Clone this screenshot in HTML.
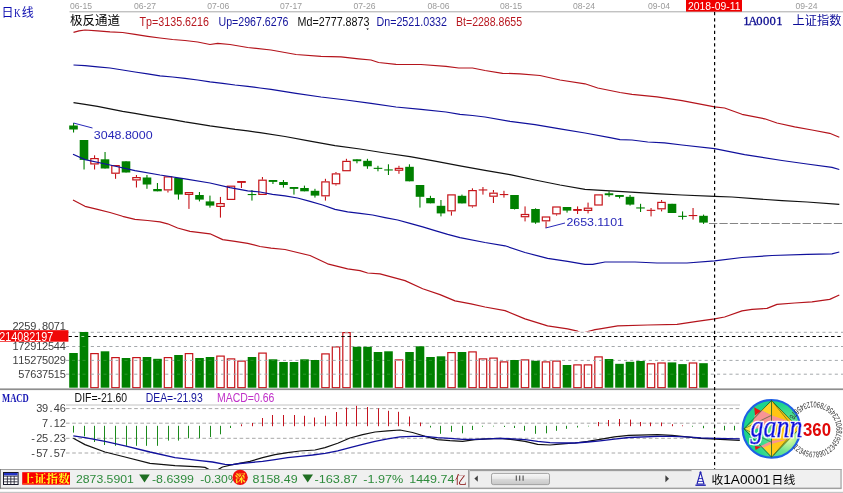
<!DOCTYPE html>
<html><head><meta charset="utf-8"><title>K</title>
<style>html,body{margin:0;padding:0;background:#fff;width:843px;height:493px;overflow:hidden}svg{will-change:transform;transform:translateZ(0)}</style></head>
<body>
<svg width="843" height="493" viewBox="0 0 843 493" style="display:block">
<rect width="843" height="493" fill="#fff"/>
<defs><clipPath id="cm"><rect x="66" y="12" width="777" height="319.6"/></clipPath><clipPath id="cd"><rect x="66" y="392" width="674" height="77.3"/></clipPath></defs>
<rect x="69.5" y="11.3" width="774" height="1" fill="#a8a8a8"/>
<text x="70.0" y="9.4" font-family="Liberation Sans" font-size="9.8" fill="#9a9a9a" text-anchor="start" font-weight="normal" font-style="normal" textLength="22.0" lengthAdjust="spacingAndGlyphs" >06-15</text>
<text x="134.0" y="9.4" font-family="Liberation Sans" font-size="9.8" fill="#9a9a9a" text-anchor="start" font-weight="normal" font-style="normal" textLength="22.0" lengthAdjust="spacingAndGlyphs" >06-27</text>
<text x="207.3" y="9.4" font-family="Liberation Sans" font-size="9.8" fill="#9a9a9a" text-anchor="start" font-weight="normal" font-style="normal" textLength="22.0" lengthAdjust="spacingAndGlyphs" >07-06</text>
<text x="280.0" y="9.4" font-family="Liberation Sans" font-size="9.8" fill="#9a9a9a" text-anchor="start" font-weight="normal" font-style="normal" textLength="22.0" lengthAdjust="spacingAndGlyphs" >07-17</text>
<text x="353.5" y="9.4" font-family="Liberation Sans" font-size="9.8" fill="#9a9a9a" text-anchor="start" font-weight="normal" font-style="normal" textLength="22.0" lengthAdjust="spacingAndGlyphs" >07-26</text>
<text x="427.5" y="9.4" font-family="Liberation Sans" font-size="9.8" fill="#9a9a9a" text-anchor="start" font-weight="normal" font-style="normal" textLength="22.0" lengthAdjust="spacingAndGlyphs" >08-06</text>
<text x="500.0" y="9.4" font-family="Liberation Sans" font-size="9.8" fill="#9a9a9a" text-anchor="start" font-weight="normal" font-style="normal" textLength="22.0" lengthAdjust="spacingAndGlyphs" >08-15</text>
<text x="573.0" y="9.4" font-family="Liberation Sans" font-size="9.8" fill="#9a9a9a" text-anchor="start" font-weight="normal" font-style="normal" textLength="22.0" lengthAdjust="spacingAndGlyphs" >08-24</text>
<text x="648.0" y="9.4" font-family="Liberation Sans" font-size="9.8" fill="#9a9a9a" text-anchor="start" font-weight="normal" font-style="normal" textLength="22.0" lengthAdjust="spacingAndGlyphs" >09-04</text>
<text x="795.5" y="9.4" font-family="Liberation Sans" font-size="9.8" fill="#9a9a9a" text-anchor="start" font-weight="normal" font-style="normal" textLength="22.0" lengthAdjust="spacingAndGlyphs" >09-24</text>
<rect x="686" y="0" width="56" height="11.6" fill="#f00000"/>
<text x="688.0" y="10.0" font-family="Liberation Sans" font-size="11.5" fill="#fff" text-anchor="start" font-weight="normal" font-style="normal" textLength="52.5" lengthAdjust="spacingAndGlyphs" >2018-09-11</text>
<text x="1.4" y="17.2" font-family="'Liberation Sans','Noto Sans CJK SC',sans-serif" font-size="12" fill="#0c0cb0" text-anchor="start">日</text>
<text x="14.0" y="17.2" font-family="Liberation Serif" font-size="12.4" fill="#0c0cb0" text-anchor="start" font-weight="normal" font-style="normal" textLength="6.6" lengthAdjust="spacingAndGlyphs" >K</text>
<text x="21.8" y="17.2" font-family="'Liberation Sans','Noto Sans CJK SC',sans-serif" font-size="12" fill="#0c0cb0" text-anchor="start">线</text>
<text x="70.0" y="25.0" font-family="'Liberation Sans','Noto Sans CJK SC',sans-serif" font-size="12.4" fill="#000" text-anchor="start" textLength="50.0" lengthAdjust="spacingAndGlyphs">极反通道</text>
<text x="139.5" y="26.0" font-family="Liberation Sans" font-size="12.4" fill="#b81820" text-anchor="start" font-weight="normal" font-style="normal" textLength="69.5" lengthAdjust="spacingAndGlyphs" >Tp=3135.6216</text>
<text x="218.5" y="26.0" font-family="Liberation Sans" font-size="12.4" fill="#14149c" text-anchor="start" font-weight="normal" font-style="normal" textLength="70.0" lengthAdjust="spacingAndGlyphs" >Up=2967.6276</text>
<text x="297.5" y="26.0" font-family="Liberation Sans" font-size="12.4" fill="#111" text-anchor="start" font-weight="normal" font-style="normal" textLength="72.0" lengthAdjust="spacingAndGlyphs" >Md=2777.8873</text>
<text x="376.5" y="26.0" font-family="Liberation Sans" font-size="12.4" fill="#14149c" text-anchor="start" font-weight="normal" font-style="normal" textLength="70.5" lengthAdjust="spacingAndGlyphs" >Dn=2521.0332</text>
<text x="456.0" y="26.0" font-family="Liberation Sans" font-size="12.4" fill="#b81820" text-anchor="start" font-weight="normal" font-style="normal" textLength="66.0" lengthAdjust="spacingAndGlyphs" >Bt=2288.8655</text>
<path d="M366.3 28.6h2.6l-1.3 1.5z" fill="#000"/>
<text stroke="#0c0c90" stroke-width="0.3" x="746.3 752.9 759.5 766.1 772.7 779.3" y="25.0" font-family="Liberation Serif" font-size="12.6" fill="#0c0c90" text-anchor="middle" font-weight="normal">1A0001</text>
<text x="792.6" y="25.0" font-family="'Liberation Sans','Noto Sans CJK SC',sans-serif" font-size="12.2" fill="#0c0c98" text-anchor="start" textLength="48.8" lengthAdjust="spacingAndGlyphs">上证指数</text>
<rect x="73.0" y="123.0" width="1.1" height="9.5" fill="#008000"/>
<rect x="69.2" y="125.5" width="8.6" height="4.0" fill="#008000"/>
<rect x="83.5" y="140.0" width="1.1" height="29.5" fill="#008000"/>
<rect x="79.7" y="140.0" width="8.6" height="19.9" fill="#008000"/>
<rect x="94.0" y="155.3" width="1.1" height="2.7" fill="#c6141a"/>
<rect x="94.0" y="164.5" width="1.1" height="5.0" fill="#c6141a"/>
<rect x="90.8" y="158.6" width="7.4" height="5.3" fill="#fff" stroke="#c6141a" stroke-width="1.2"/>
<rect x="104.5" y="152.0" width="1.1" height="16.5" fill="#008000"/>
<rect x="100.7" y="159.3" width="8.6" height="9.2" fill="#008000"/>
<rect x="115.0" y="173.8" width="1.1" height="5.0" fill="#c6141a"/>
<rect x="111.8" y="165.6" width="7.4" height="7.6" fill="#fff" stroke="#c6141a" stroke-width="1.2"/>
<rect x="125.5" y="161.3" width="1.1" height="11.2" fill="#008000"/>
<rect x="121.7" y="161.3" width="8.6" height="11.2" fill="#008000"/>
<rect x="135.9" y="175.0" width="1.1" height="2.0" fill="#c6141a"/>
<rect x="135.9" y="180.5" width="1.1" height="7.0" fill="#c6141a"/>
<rect x="132.8" y="177.6" width="7.4" height="2.3" fill="#fff" stroke="#c6141a" stroke-width="1.2"/>
<rect x="146.4" y="175.0" width="1.1" height="13.8" fill="#008000"/>
<rect x="142.7" y="177.5" width="8.6" height="7.0" fill="#008000"/>
<rect x="156.9" y="183.0" width="1.1" height="8.3" fill="#008000"/>
<rect x="153.2" y="189.0" width="8.6" height="2.3" fill="#008000"/>
<rect x="167.4" y="190.5" width="1.1" height="2.0" fill="#c6141a"/>
<rect x="164.3" y="176.9" width="7.4" height="13.0" fill="#fff" stroke="#c6141a" stroke-width="1.2"/>
<rect x="177.9" y="178.0" width="1.1" height="21.6" fill="#008000"/>
<rect x="174.2" y="178.0" width="8.6" height="16.5" fill="#008000"/>
<rect x="188.4" y="195.0" width="1.1" height="13.9" fill="#c6141a"/>
<rect x="185.3" y="192.6" width="7.4" height="1.8" fill="#fff" stroke="#c6141a" stroke-width="1.2"/>
<rect x="198.9" y="192.0" width="1.1" height="9.4" fill="#008000"/>
<rect x="195.2" y="195.0" width="8.6" height="4.6" fill="#008000"/>
<rect x="209.4" y="195.6" width="1.1" height="12.0" fill="#008000"/>
<rect x="205.7" y="201.4" width="8.6" height="4.2" fill="#008000"/>
<rect x="219.9" y="196.9" width="1.1" height="6.1" fill="#c6141a"/>
<rect x="219.9" y="207.0" width="1.1" height="10.6" fill="#c6141a"/>
<rect x="216.8" y="203.6" width="7.4" height="2.8" fill="#fff" stroke="#c6141a" stroke-width="1.2"/>
<rect x="227.3" y="186.2" width="7.4" height="13.2" fill="#fff" stroke="#c6141a" stroke-width="1.2"/>
<rect x="237.2" y="181.0" width="8.6" height="1.9" fill="#c6141a"/>
<rect x="240.9" y="181.0" width="1.1" height="7.0" fill="#c6141a"/>
<rect x="247.7" y="194.0" width="8.6" height="1.1" fill="#008000"/>
<rect x="251.4" y="190.0" width="1.1" height="10.6" fill="#008000"/>
<rect x="261.9" y="177.0" width="1.1" height="2.6" fill="#c6141a"/>
<rect x="258.8" y="180.2" width="7.4" height="14.2" fill="#fff" stroke="#c6141a" stroke-width="1.2"/>
<rect x="268.7" y="180.0" width="8.6" height="1.9" fill="#008000"/>
<rect x="272.4" y="180.0" width="1.1" height="4.0" fill="#008000"/>
<rect x="282.9" y="180.0" width="1.1" height="7.6" fill="#008000"/>
<rect x="279.2" y="182.0" width="8.6" height="3.0" fill="#008000"/>
<rect x="289.7" y="187.0" width="8.6" height="1.9" fill="#008000"/>
<rect x="293.4" y="187.0" width="1.1" height="7.6" fill="#008000"/>
<rect x="303.9" y="185.6" width="1.1" height="5.7" fill="#008000"/>
<rect x="300.2" y="188.0" width="8.6" height="3.3" fill="#008000"/>
<rect x="314.4" y="188.8" width="1.1" height="8.8" fill="#008000"/>
<rect x="310.7" y="190.8" width="8.6" height="4.8" fill="#008000"/>
<rect x="324.9" y="178.8" width="1.1" height="2.5" fill="#c6141a"/>
<rect x="324.9" y="196.4" width="1.1" height="4.2" fill="#c6141a"/>
<rect x="321.8" y="181.9" width="7.4" height="13.9" fill="#fff" stroke="#c6141a" stroke-width="1.2"/>
<rect x="335.4" y="172.0" width="1.1" height="1.3" fill="#c6141a"/>
<rect x="335.4" y="184.3" width="1.1" height="1.3" fill="#c6141a"/>
<rect x="332.3" y="173.9" width="7.4" height="9.8" fill="#fff" stroke="#c6141a" stroke-width="1.2"/>
<rect x="345.9" y="158.8" width="1.1" height="2.0" fill="#c6141a"/>
<rect x="342.8" y="161.4" width="7.4" height="9.3" fill="#fff" stroke="#c6141a" stroke-width="1.2"/>
<rect x="352.7" y="159.3" width="8.6" height="1.9" fill="#008000"/>
<rect x="356.4" y="159.3" width="1.1" height="4.0" fill="#008000"/>
<rect x="366.9" y="158.8" width="1.1" height="10.0" fill="#008000"/>
<rect x="363.2" y="160.8" width="8.6" height="5.5" fill="#008000"/>
<rect x="373.7" y="167.8" width="8.6" height="1.1" fill="#008000"/>
<rect x="377.4" y="165.8" width="1.1" height="5.5" fill="#008000"/>
<rect x="384.2" y="169.4" width="8.6" height="1.1" fill="#008000"/>
<rect x="387.9" y="164.3" width="1.1" height="10.7" fill="#008000"/>
<rect x="398.4" y="165.8" width="1.1" height="2.0" fill="#c6141a"/>
<rect x="398.4" y="170.8" width="1.1" height="3.0" fill="#c6141a"/>
<rect x="395.3" y="168.4" width="7.4" height="1.8" fill="#fff" stroke="#c6141a" stroke-width="1.2"/>
<rect x="408.9" y="164.3" width="1.1" height="17.0" fill="#008000"/>
<rect x="405.2" y="166.8" width="8.6" height="14.5" fill="#008000"/>
<rect x="419.4" y="185.0" width="1.1" height="22.6" fill="#008000"/>
<rect x="415.7" y="185.0" width="8.6" height="11.8" fill="#008000"/>
<rect x="429.9" y="195.8" width="1.1" height="7.5" fill="#008000"/>
<rect x="426.2" y="198.0" width="8.6" height="5.3" fill="#008000"/>
<rect x="440.4" y="200.0" width="1.1" height="16.4" fill="#008000"/>
<rect x="436.7" y="205.8" width="8.6" height="7.6" fill="#008000"/>
<rect x="450.9" y="211.4" width="1.1" height="4.2" fill="#c6141a"/>
<rect x="447.8" y="194.9" width="7.4" height="15.9" fill="#fff" stroke="#c6141a" stroke-width="1.2"/>
<rect x="461.4" y="194.6" width="1.1" height="8.8" fill="#008000"/>
<rect x="457.7" y="195.8" width="8.6" height="7.6" fill="#008000"/>
<rect x="471.9" y="188.3" width="1.1" height="1.7" fill="#c6141a"/>
<rect x="471.9" y="206.4" width="1.1" height="1.2" fill="#c6141a"/>
<rect x="468.8" y="190.6" width="7.4" height="15.2" fill="#fff" stroke="#c6141a" stroke-width="1.2"/>
<rect x="478.7" y="189.4" width="8.6" height="1.1" fill="#c6141a"/>
<rect x="482.4" y="187.0" width="1.1" height="7.6" fill="#c6141a"/>
<rect x="492.9" y="190.0" width="1.1" height="2.6" fill="#c6141a"/>
<rect x="492.9" y="196.8" width="1.1" height="6.2" fill="#c6141a"/>
<rect x="489.8" y="193.2" width="7.4" height="3.0" fill="#fff" stroke="#c6141a" stroke-width="1.2"/>
<rect x="499.7" y="194.0" width="8.6" height="1.1" fill="#c6141a"/>
<rect x="503.4" y="190.8" width="1.1" height="6.8" fill="#c6141a"/>
<rect x="514.0" y="195.0" width="1.1" height="14.5" fill="#008000"/>
<rect x="510.2" y="195.0" width="8.6" height="14.0" fill="#008000"/>
<rect x="524.5" y="206.4" width="1.1" height="7.5" fill="#c6141a"/>
<rect x="524.5" y="217.3" width="1.1" height="4.1" fill="#c6141a"/>
<rect x="521.3" y="214.5" width="7.4" height="2.2" fill="#fff" stroke="#c6141a" stroke-width="1.2"/>
<rect x="535.0" y="208.3" width="1.1" height="15.5" fill="#008000"/>
<rect x="531.2" y="209.0" width="8.6" height="13.6" fill="#008000"/>
<rect x="545.5" y="221.4" width="1.1" height="6.6" fill="#c6141a"/>
<rect x="542.3" y="217.0" width="7.4" height="3.8" fill="#fff" stroke="#c6141a" stroke-width="1.2"/>
<rect x="556.0" y="214.4" width="1.1" height="1.2" fill="#c6141a"/>
<rect x="552.8" y="207.0" width="7.4" height="6.8" fill="#fff" stroke="#c6141a" stroke-width="1.2"/>
<rect x="566.5" y="207.0" width="1.1" height="5.6" fill="#008000"/>
<rect x="562.7" y="207.0" width="8.6" height="3.6" fill="#008000"/>
<rect x="573.2" y="209.0" width="8.6" height="1.9" fill="#c6141a"/>
<rect x="577.0" y="206.4" width="1.1" height="7.6" fill="#c6141a"/>
<rect x="587.5" y="202.6" width="1.1" height="5.0" fill="#c6141a"/>
<rect x="587.5" y="211.0" width="1.1" height="2.4" fill="#c6141a"/>
<rect x="584.3" y="208.2" width="7.4" height="2.2" fill="#fff" stroke="#c6141a" stroke-width="1.2"/>
<rect x="594.8" y="194.9" width="7.4" height="10.1" fill="#fff" stroke="#c6141a" stroke-width="1.2"/>
<rect x="604.7" y="193.3" width="8.6" height="1.9" fill="#008000"/>
<rect x="608.5" y="191.3" width="1.1" height="5.5" fill="#008000"/>
<rect x="615.2" y="195.0" width="8.6" height="1.9" fill="#008000"/>
<rect x="619.0" y="195.0" width="1.1" height="3.4" fill="#008000"/>
<rect x="629.5" y="195.0" width="1.1" height="10.6" fill="#008000"/>
<rect x="625.7" y="196.8" width="8.6" height="7.8" fill="#008000"/>
<rect x="636.2" y="207.4" width="8.6" height="1.1" fill="#008000"/>
<rect x="640.0" y="203.8" width="1.1" height="8.2" fill="#008000"/>
<rect x="646.7" y="209.8" width="8.6" height="1.1" fill="#c6141a"/>
<rect x="650.5" y="208.0" width="1.1" height="8.4" fill="#c6141a"/>
<rect x="661.0" y="200.0" width="1.1" height="1.8" fill="#c6141a"/>
<rect x="661.0" y="209.4" width="1.1" height="2.0" fill="#c6141a"/>
<rect x="657.8" y="202.4" width="7.4" height="6.4" fill="#fff" stroke="#c6141a" stroke-width="1.2"/>
<rect x="671.5" y="203.8" width="1.1" height="9.2" fill="#008000"/>
<rect x="667.7" y="203.8" width="8.6" height="9.2" fill="#008000"/>
<rect x="678.2" y="215.8" width="8.6" height="1.1" fill="#008000"/>
<rect x="682.0" y="211.4" width="1.1" height="8.2" fill="#008000"/>
<rect x="688.7" y="215.0" width="8.6" height="1.1" fill="#c6141a"/>
<rect x="692.5" y="208.0" width="1.1" height="11.6" fill="#c6141a"/>
<rect x="703.0" y="214.6" width="1.1" height="9.3" fill="#008000"/>
<rect x="699.2" y="215.8" width="8.6" height="6.8" fill="#008000"/>
<g clip-path="url(#cm)">
<polyline points="73.5,32.3 79.0,30.8 85.0,30.0 97.5,30.8 110.0,31.8 122.6,32.5 135.0,34.3 147.6,36.3 160.0,38.0 172.6,39.5 185.0,40.5 197.7,42.0 210.0,44.5 217.7,43.3 230.0,44.5 247.7,47.5 271.0,50.0 296.0,54.5 321.0,56.3 341.0,56.8 358.6,58.8 371.0,60.0 378.6,62.5 396.0,64.3 421.0,64.5 446.0,66.3 458.7,68.0 472.5,68.0 485.0,70.5 502.6,73.3 520.0,73.8 540.0,75.5 560.0,80.0 585.0,83.8 597.7,88.0 620.0,92.5 632.0,94.3 657.0,96.8 682.0,100.6 714.6,106.8 724.6,108.0 742.0,114.3 764.7,118.8 777.0,123.0 794.7,126.8 812.0,130.0 829.7,133.3 839.3,137.3" fill="none" stroke="#b4141c" stroke-width="1.2" stroke-linejoin="round" />
<polyline points="73.5,65.0 85.0,65.6 97.5,66.8 110.0,68.0 122.6,70.0 135.0,72.0 147.6,73.8 160.0,75.8 172.6,77.0 185.0,78.3 197.7,80.0 210.0,81.8 222.7,83.3 235.0,85.0 247.7,86.3 260.0,88.0 271.0,89.3 296.0,93.3 321.0,97.0 346.0,100.0 371.0,103.3 396.0,107.0 421.0,109.3 446.0,112.0 460.0,114.3 472.5,115.5 485.0,117.0 510.0,121.3 535.0,124.6 560.0,128.8 585.0,133.0 610.0,137.6 620.0,139.6 632.0,140.0 647.7,142.0 664.5,142.8 682.0,145.0 714.6,148.6 744.6,154.6 782.0,160.5 807.0,164.0 832.0,167.4 839.3,169.5" fill="none" stroke="#10109c" stroke-width="1.2" stroke-linejoin="round" />
<polyline points="73.5,102.6 85.0,104.4 97.5,106.4 110.0,108.9 122.6,111.4 135.0,113.4 147.6,115.6 160.0,117.6 172.6,119.6 185.0,121.9 197.7,123.9 210.0,125.9 222.7,127.6 235.0,129.4 247.7,130.9 260.0,132.6 285.0,136.5 310.0,141.2 335.0,145.6 360.0,149.0 385.0,153.0 410.0,156.7 435.0,161.2 460.0,165.8 485.0,170.3 510.0,174.7 535.0,180.0 560.0,185.0 585.0,189.3 610.0,190.8 635.0,192.4 660.0,193.8 682.0,195.0 714.6,196.4 732.0,197.0 757.0,198.9 782.0,200.6 807.0,202.0 839.3,204.4" fill="none" stroke="#111" stroke-width="1.2" stroke-linejoin="round" />
<polyline points="73.0,154.3 85.0,159.6 110.0,165.0 135.0,170.6 160.0,175.0 185.0,178.8 210.0,183.0 230.0,187.6 247.7,190.8 260.0,192.0 272.5,194.3 285.0,195.8 297.5,198.0 310.0,201.4 322.6,205.0 335.0,209.4 347.6,211.9 360.0,213.4 372.6,215.0 385.0,217.6 397.7,220.0 410.0,223.4 422.7,226.9 435.0,230.6 447.7,234.4 460.0,237.6 485.0,242.5 505.0,245.8 525.0,252.5 547.6,258.3 567.6,261.3 585.0,264.3 592.7,264.3 605.0,262.0 635.0,262.0 657.0,263.0 687.0,263.0 714.6,260.8 742.0,257.5 772.0,255.5 807.0,254.3 832.0,253.8 839.3,252.0" fill="none" stroke="#10109c" stroke-width="1.2" stroke-linejoin="round" />
<polyline points="73.0,200.0 85.0,206.3 97.5,209.3 110.0,212.5 122.6,216.3 135.0,219.3 147.6,220.5 160.0,221.8 167.6,223.8 177.6,228.0 190.0,231.3 210.0,233.8 222.7,239.6 235.0,241.3 247.7,243.3 260.0,246.5 271.0,248.1 285.0,249.5 310.0,255.5 327.6,263.8 347.6,268.8 360.0,270.6 367.6,273.0 380.0,273.8 405.0,280.6 422.7,288.8 440.0,294.6 455.0,300.9 471.0,303.9 485.0,307.0 505.0,310.6 525.0,318.9 547.6,325.9 567.6,328.9 577.6,331.2 582.0,333.5 586.0,332.0 595.0,329.6 600.0,328.8 617.7,325.9 647.7,325.0 677.0,324.4 697.0,321.4 714.6,318.9 724.6,317.0 742.0,310.9 752.0,309.4 767.0,308.4 777.0,304.4 794.7,303.0 812.0,301.9 829.7,299.4 839.3,295.0" fill="none" stroke="#b4141c" stroke-width="1.2" stroke-linejoin="round" />
</g>
<path d="M73.5 123L92.5 128" stroke="#2828b8" stroke-width="1" fill="none"/>
<text x="93.8" y="138.8" font-family="Liberation Sans" font-size="11.6" fill="#2828b8" text-anchor="start" font-weight="normal" font-style="normal" textLength="58.8" lengthAdjust="spacingAndGlyphs" >3048.8000</text>
<path d="M545.6 228L565 223" stroke="#2828b8" stroke-width="1" fill="none"/>
<text x="566.4" y="226.0" font-family="Liberation Sans" font-size="11.6" fill="#2828b8" text-anchor="start" font-weight="normal" font-style="normal" textLength="57.6" lengthAdjust="spacingAndGlyphs" >2653.1101</text>
<path d="M709 223.5H843" stroke="#858585" stroke-width="1" stroke-dasharray="8.3 2.1" fill="none"/>
<rect x="90.8" y="353.6" width="7.4" height="34.1" fill="#fff" stroke="#c6141a" stroke-width="1.2"/>
<rect x="111.8" y="357.6" width="7.4" height="30.1" fill="#fff" stroke="#c6141a" stroke-width="1.2"/>
<rect x="132.8" y="357.6" width="7.4" height="30.1" fill="#fff" stroke="#c6141a" stroke-width="1.2"/>
<rect x="164.3" y="357.6" width="7.4" height="30.1" fill="#fff" stroke="#c6141a" stroke-width="1.2"/>
<rect x="185.3" y="353.6" width="7.4" height="34.1" fill="#fff" stroke="#c6141a" stroke-width="1.2"/>
<rect x="216.8" y="356.1" width="7.4" height="31.6" fill="#fff" stroke="#c6141a" stroke-width="1.2"/>
<rect x="227.3" y="358.9" width="7.4" height="28.8" fill="#fff" stroke="#c6141a" stroke-width="1.2"/>
<rect x="237.8" y="361.1" width="7.4" height="26.6" fill="#fff" stroke="#c6141a" stroke-width="1.2"/>
<rect x="258.8" y="353.1" width="7.4" height="34.6" fill="#fff" stroke="#c6141a" stroke-width="1.2"/>
<rect x="321.8" y="353.9" width="7.4" height="33.8" fill="#fff" stroke="#c6141a" stroke-width="1.2"/>
<rect x="332.3" y="346.9" width="7.4" height="40.8" fill="#fff" stroke="#c6141a" stroke-width="1.2"/>
<rect x="342.8" y="332.6" width="7.4" height="55.1" fill="#fff" stroke="#c6141a" stroke-width="1.2"/>
<rect x="395.3" y="359.9" width="7.4" height="27.8" fill="#fff" stroke="#c6141a" stroke-width="1.2"/>
<rect x="447.8" y="352.6" width="7.4" height="35.1" fill="#fff" stroke="#c6141a" stroke-width="1.2"/>
<rect x="468.8" y="351.9" width="7.4" height="35.8" fill="#fff" stroke="#c6141a" stroke-width="1.2"/>
<rect x="479.3" y="358.9" width="7.4" height="28.8" fill="#fff" stroke="#c6141a" stroke-width="1.2"/>
<rect x="489.8" y="358.1" width="7.4" height="29.6" fill="#fff" stroke="#c6141a" stroke-width="1.2"/>
<rect x="500.3" y="361.9" width="7.4" height="25.8" fill="#fff" stroke="#c6141a" stroke-width="1.2"/>
<rect x="521.3" y="359.9" width="7.4" height="27.8" fill="#fff" stroke="#c6141a" stroke-width="1.2"/>
<rect x="542.3" y="361.9" width="7.4" height="25.8" fill="#fff" stroke="#c6141a" stroke-width="1.2"/>
<rect x="552.8" y="361.1" width="7.4" height="26.6" fill="#fff" stroke="#c6141a" stroke-width="1.2"/>
<rect x="573.8" y="364.9" width="7.4" height="22.8" fill="#fff" stroke="#c6141a" stroke-width="1.2"/>
<rect x="584.3" y="364.9" width="7.4" height="22.8" fill="#fff" stroke="#c6141a" stroke-width="1.2"/>
<rect x="594.8" y="356.9" width="7.4" height="30.8" fill="#fff" stroke="#c6141a" stroke-width="1.2"/>
<rect x="647.3" y="363.8" width="7.4" height="23.9" fill="#fff" stroke="#c6141a" stroke-width="1.2"/>
<rect x="657.8" y="363.0" width="7.4" height="24.7" fill="#fff" stroke="#c6141a" stroke-width="1.2"/>
<rect x="689.3" y="363.0" width="7.4" height="24.7" fill="#fff" stroke="#c6141a" stroke-width="1.2"/>
<path d="M66 332.3H843" stroke="#a4a8ac" stroke-width="1" stroke-dasharray="3.1 3.1" fill="none"/>
<path d="M66 346.5H843" stroke="#a4a8ac" stroke-width="1" stroke-dasharray="3.1 3.1" fill="none"/>
<path d="M66 360.4H843" stroke="#a4a8ac" stroke-width="1" stroke-dasharray="3.1 3.1" fill="none"/>
<path d="M66 374.2H843" stroke="#a4a8ac" stroke-width="1" stroke-dasharray="3.1 3.1" fill="none"/>
<path d="M68.5 336.5H843" stroke="#000" stroke-width="1.2" stroke-dasharray="3.4 2.8" fill="none"/>
<rect x="69.2" y="353.0" width="8.6" height="34.7" fill="#008000"/>
<rect x="72.0" y="359.9" width="3" height="1" fill="#2a942a"/>
<rect x="72.0" y="373.7" width="3" height="1" fill="#2a942a"/>
<rect x="79.7" y="332.0" width="8.6" height="55.7" fill="#008000"/>
<rect x="82.5" y="346.0" width="3" height="1" fill="#2a942a"/>
<rect x="82.5" y="359.9" width="3" height="1" fill="#2a942a"/>
<rect x="82.5" y="373.7" width="3" height="1" fill="#2a942a"/>
<rect x="100.7" y="351.3" width="8.6" height="36.4" fill="#008000"/>
<rect x="103.5" y="359.9" width="3" height="1" fill="#2a942a"/>
<rect x="103.5" y="373.7" width="3" height="1" fill="#2a942a"/>
<rect x="121.7" y="358.0" width="8.6" height="29.7" fill="#008000"/>
<rect x="124.5" y="359.9" width="3" height="1" fill="#2a942a"/>
<rect x="124.5" y="373.7" width="3" height="1" fill="#2a942a"/>
<rect x="142.7" y="357.0" width="8.6" height="30.7" fill="#008000"/>
<rect x="145.5" y="359.9" width="3" height="1" fill="#2a942a"/>
<rect x="145.5" y="373.7" width="3" height="1" fill="#2a942a"/>
<rect x="153.2" y="358.8" width="8.6" height="28.9" fill="#008000"/>
<rect x="156.0" y="359.9" width="3" height="1" fill="#2a942a"/>
<rect x="156.0" y="373.7" width="3" height="1" fill="#2a942a"/>
<rect x="174.2" y="355.0" width="8.6" height="32.7" fill="#008000"/>
<rect x="177.0" y="359.9" width="3" height="1" fill="#2a942a"/>
<rect x="177.0" y="373.7" width="3" height="1" fill="#2a942a"/>
<rect x="195.2" y="358.0" width="8.6" height="29.7" fill="#008000"/>
<rect x="198.0" y="359.9" width="3" height="1" fill="#2a942a"/>
<rect x="198.0" y="373.7" width="3" height="1" fill="#2a942a"/>
<rect x="205.7" y="357.0" width="8.6" height="30.7" fill="#008000"/>
<rect x="208.5" y="359.9" width="3" height="1" fill="#2a942a"/>
<rect x="208.5" y="373.7" width="3" height="1" fill="#2a942a"/>
<rect x="247.7" y="357.0" width="8.6" height="30.7" fill="#008000"/>
<rect x="250.5" y="359.9" width="3" height="1" fill="#2a942a"/>
<rect x="250.5" y="373.7" width="3" height="1" fill="#2a942a"/>
<rect x="268.7" y="359.3" width="8.6" height="28.4" fill="#008000"/>
<rect x="271.5" y="359.9" width="3" height="1" fill="#2a942a"/>
<rect x="271.5" y="373.7" width="3" height="1" fill="#2a942a"/>
<rect x="279.2" y="362.0" width="8.6" height="25.7" fill="#008000"/>
<rect x="282.0" y="373.7" width="3" height="1" fill="#2a942a"/>
<rect x="289.7" y="362.0" width="8.6" height="25.7" fill="#008000"/>
<rect x="292.5" y="373.7" width="3" height="1" fill="#2a942a"/>
<rect x="300.2" y="359.3" width="8.6" height="28.4" fill="#008000"/>
<rect x="303.0" y="359.9" width="3" height="1" fill="#2a942a"/>
<rect x="303.0" y="373.7" width="3" height="1" fill="#2a942a"/>
<rect x="310.7" y="360.0" width="8.6" height="27.7" fill="#008000"/>
<rect x="313.5" y="373.7" width="3" height="1" fill="#2a942a"/>
<rect x="352.7" y="346.8" width="8.6" height="40.9" fill="#008000"/>
<rect x="355.5" y="359.9" width="3" height="1" fill="#2a942a"/>
<rect x="355.5" y="373.7" width="3" height="1" fill="#2a942a"/>
<rect x="363.2" y="346.8" width="8.6" height="40.9" fill="#008000"/>
<rect x="366.0" y="359.9" width="3" height="1" fill="#2a942a"/>
<rect x="366.0" y="373.7" width="3" height="1" fill="#2a942a"/>
<rect x="373.7" y="352.0" width="8.6" height="35.7" fill="#008000"/>
<rect x="376.5" y="359.9" width="3" height="1" fill="#2a942a"/>
<rect x="376.5" y="373.7" width="3" height="1" fill="#2a942a"/>
<rect x="384.2" y="351.3" width="8.6" height="36.4" fill="#008000"/>
<rect x="387.0" y="359.9" width="3" height="1" fill="#2a942a"/>
<rect x="387.0" y="373.7" width="3" height="1" fill="#2a942a"/>
<rect x="405.2" y="352.0" width="8.6" height="35.7" fill="#008000"/>
<rect x="408.0" y="359.9" width="3" height="1" fill="#2a942a"/>
<rect x="408.0" y="373.7" width="3" height="1" fill="#2a942a"/>
<rect x="415.7" y="346.3" width="8.6" height="41.4" fill="#008000"/>
<rect x="418.5" y="359.9" width="3" height="1" fill="#2a942a"/>
<rect x="418.5" y="373.7" width="3" height="1" fill="#2a942a"/>
<rect x="426.2" y="357.0" width="8.6" height="30.7" fill="#008000"/>
<rect x="429.0" y="359.9" width="3" height="1" fill="#2a942a"/>
<rect x="429.0" y="373.7" width="3" height="1" fill="#2a942a"/>
<rect x="436.7" y="356.3" width="8.6" height="31.4" fill="#008000"/>
<rect x="439.5" y="359.9" width="3" height="1" fill="#2a942a"/>
<rect x="439.5" y="373.7" width="3" height="1" fill="#2a942a"/>
<rect x="457.7" y="352.0" width="8.6" height="35.7" fill="#008000"/>
<rect x="460.5" y="359.9" width="3" height="1" fill="#2a942a"/>
<rect x="460.5" y="373.7" width="3" height="1" fill="#2a942a"/>
<rect x="510.2" y="360.0" width="8.6" height="27.7" fill="#008000"/>
<rect x="513.0" y="373.7" width="3" height="1" fill="#2a942a"/>
<rect x="531.2" y="360.8" width="8.6" height="26.9" fill="#008000"/>
<rect x="534.0" y="373.7" width="3" height="1" fill="#2a942a"/>
<rect x="562.7" y="365.0" width="8.6" height="22.7" fill="#008000"/>
<rect x="565.5" y="373.7" width="3" height="1" fill="#2a942a"/>
<rect x="604.7" y="359.0" width="8.6" height="28.7" fill="#008000"/>
<rect x="607.5" y="359.9" width="3" height="1" fill="#2a942a"/>
<rect x="607.5" y="373.7" width="3" height="1" fill="#2a942a"/>
<rect x="615.2" y="363.8" width="8.6" height="23.9" fill="#008000"/>
<rect x="618.0" y="373.7" width="3" height="1" fill="#2a942a"/>
<rect x="625.7" y="361.8" width="8.6" height="25.9" fill="#008000"/>
<rect x="628.5" y="373.7" width="3" height="1" fill="#2a942a"/>
<rect x="636.2" y="361.0" width="8.6" height="26.7" fill="#008000"/>
<rect x="639.0" y="373.7" width="3" height="1" fill="#2a942a"/>
<rect x="667.7" y="362.4" width="8.6" height="25.3" fill="#008000"/>
<rect x="670.5" y="373.7" width="3" height="1" fill="#2a942a"/>
<rect x="678.2" y="364.1" width="8.6" height="23.6" fill="#008000"/>
<rect x="681.0" y="373.7" width="3" height="1" fill="#2a942a"/>
<rect x="699.2" y="363.2" width="8.6" height="24.5" fill="#008000"/>
<rect x="702.0" y="373.7" width="3" height="1" fill="#2a942a"/>
<rect x="81.4" y="336" width="2.8" height="1" fill="#a8dca8"/>
<text x="15.6 21.4 27.3 33.3 39.2 45.1 51.0 56.9 62.8" y="329.7" font-family="Liberation Sans" font-size="11" fill="#404040" text-anchor="middle" font-weight="normal">2259.8071</text>
<text x="15.6 21.4 27.3 33.3 39.2 45.1 51.0 56.9 62.8" y="350.2" font-family="Liberation Sans" font-size="11" fill="#404040" text-anchor="middle" font-weight="normal">172912544</text>
<text x="15.6 21.4 27.3 33.3 39.2 45.1 51.0 56.9 62.8" y="363.8" font-family="Liberation Sans" font-size="11" fill="#404040" text-anchor="middle" font-weight="normal">115275029</text>
<text x="21.4 27.3 33.2 39.2 45.1 51.0 56.9 62.8" y="377.6" font-family="Liberation Sans" font-size="11" fill="#404040" text-anchor="middle" font-weight="normal">57637515</text>
<rect x="0" y="330.2" width="68.4" height="11.5" fill="#f00808"/>
<text x="-0.8" y="341.0" font-family="Liberation Sans" font-size="12" fill="#fff" text-anchor="start" font-weight="normal" font-style="normal" textLength="54.0" lengthAdjust="spacingAndGlyphs" >214082197</text>
<rect x="0" y="388.4" width="843" height="1.7" fill="#8e8e8e"/>
<g clip-path="url(#cd)">
<path d="M66 405H740" stroke="#c2c2c2" stroke-width="1" fill="none"/>
<path d="M66 408.6H740" stroke="#a8a8a8" stroke-width="1" stroke-dasharray="3.6 2.6" fill="none"/>
<path d="M66 423.2H740" stroke="#a8a8a8" stroke-width="1" stroke-dasharray="3.6 2.6" fill="none"/>
<path d="M66 438.3H740" stroke="#a8a8a8" stroke-width="1" stroke-dasharray="3.6 2.6" fill="none"/>
<path d="M66 453.0H740" stroke="#a8a8a8" stroke-width="1" stroke-dasharray="3.6 2.6" fill="none"/>
<rect x="73" y="425.8" width="1" height="6.8" fill="#1c8a1c"/>
<rect x="84" y="425.8" width="1" height="10.5" fill="#1c8a1c"/>
<rect x="94" y="425.8" width="1" height="16.2" fill="#1c8a1c"/>
<rect x="104" y="425.8" width="1" height="19.2" fill="#1c8a1c"/>
<rect x="115" y="425.8" width="1" height="20.0" fill="#1c8a1c"/>
<rect x="126" y="425.8" width="1" height="20.0" fill="#1c8a1c"/>
<rect x="136" y="425.8" width="1" height="20.0" fill="#1c8a1c"/>
<rect x="146" y="425.8" width="1" height="20.0" fill="#1c8a1c"/>
<rect x="157" y="425.8" width="1" height="20.0" fill="#1c8a1c"/>
<rect x="168" y="425.8" width="1" height="14.8" fill="#1c8a1c"/>
<rect x="178" y="425.8" width="1" height="14.8" fill="#1c8a1c"/>
<rect x="188" y="425.8" width="1" height="12.5" fill="#1c8a1c"/>
<rect x="199" y="425.8" width="1" height="12.5" fill="#1c8a1c"/>
<rect x="210" y="425.8" width="1" height="11.2" fill="#1c8a1c"/>
<rect x="220" y="425.8" width="1" height="8.5" fill="#1c8a1c"/>
<rect x="230" y="425.8" width="1" height="2.2" fill="#1c8a1c"/>
<rect x="241" y="424.3" width="1" height="1.9" fill="#c41420"/>
<rect x="252" y="423.0" width="1" height="3.2" fill="#c41420"/>
<rect x="262" y="418.0" width="1" height="8.2" fill="#c41420"/>
<rect x="272" y="415.0" width="1" height="11.2" fill="#c41420"/>
<rect x="283" y="415.0" width="1" height="11.2" fill="#c41420"/>
<rect x="294" y="415.0" width="1" height="11.2" fill="#c41420"/>
<rect x="304" y="415.8" width="1" height="10.4" fill="#c41420"/>
<rect x="314" y="417.5" width="1" height="8.7" fill="#c41420"/>
<rect x="325" y="415.8" width="1" height="10.4" fill="#c41420"/>
<rect x="336" y="412.0" width="1" height="14.2" fill="#c41420"/>
<rect x="346" y="407.5" width="1" height="18.7" fill="#c41420"/>
<rect x="356" y="405.8" width="1" height="20.4" fill="#c41420"/>
<rect x="367" y="407.0" width="1" height="19.2" fill="#c41420"/>
<rect x="378" y="408.3" width="1" height="17.9" fill="#c41420"/>
<rect x="388" y="410.8" width="1" height="15.4" fill="#c41420"/>
<rect x="398" y="411.8" width="1" height="14.4" fill="#c41420"/>
<rect x="409" y="416.5" width="1" height="9.7" fill="#c41420"/>
<rect x="420" y="422.5" width="1" height="3.7" fill="#c41420"/>
<rect x="430" y="425.8" width="1" height="1.7" fill="#1c8a1c"/>
<rect x="440" y="425.8" width="1" height="8.0" fill="#1c8a1c"/>
<rect x="451" y="425.8" width="1" height="6.0" fill="#1c8a1c"/>
<rect x="462" y="425.8" width="1" height="7.5" fill="#1c8a1c"/>
<rect x="472" y="425.8" width="1" height="4.2" fill="#1c8a1c"/>
<rect x="482" y="425.8" width="1" height="0.8" fill="#1c8a1c"/>
<rect x="493" y="425.8" width="1" height="0.6" fill="#1c8a1c"/>
<rect x="504" y="425.8" width="1" height="1.2" fill="#1c8a1c"/>
<rect x="514" y="425.8" width="1" height="2.2" fill="#1c8a1c"/>
<rect x="524" y="425.8" width="1" height="5.0" fill="#1c8a1c"/>
<rect x="535" y="425.8" width="1" height="8.0" fill="#1c8a1c"/>
<rect x="546" y="425.8" width="1" height="7.5" fill="#1c8a1c"/>
<rect x="556" y="425.8" width="1" height="5.0" fill="#1c8a1c"/>
<rect x="566" y="425.8" width="1" height="3.0" fill="#1c8a1c"/>
<rect x="577" y="425.8" width="1" height="1.7" fill="#1c8a1c"/>
<rect x="588" y="425.8" width="1" height="0.6" fill="#1c8a1c"/>
<rect x="598" y="422.0" width="1" height="4.2" fill="#c41420"/>
<rect x="608" y="420.0" width="1" height="6.2" fill="#c41420"/>
<rect x="619" y="419.0" width="1" height="7.2" fill="#c41420"/>
<rect x="630" y="419.6" width="1" height="6.6" fill="#c41420"/>
<rect x="640" y="422.0" width="1" height="4.2" fill="#c41420"/>
<rect x="650" y="422.5" width="1" height="3.7" fill="#c41420"/>
<rect x="661" y="422.5" width="1" height="3.7" fill="#c41420"/>
<rect x="672" y="424.2" width="1" height="2.0" fill="#c41420"/>
<rect x="682" y="425.4" width="1" height="0.8" fill="#c41420"/>
<rect x="692" y="425.8" width="1" height="0.8" fill="#1c8a1c"/>
<rect x="703" y="425.8" width="1" height="2.4" fill="#1c8a1c"/>
<rect x="714" y="425.8" width="1" height="2.8" fill="#1c8a1c"/>
<rect x="724" y="425.8" width="1" height="4.5" fill="#1c8a1c"/>
<rect x="734" y="425.8" width="1" height="4.5" fill="#1c8a1c"/>
<polyline points="73.3,438.3 85.0,444.6 105.0,452.0 125.0,457.0 150.0,463.3 175.0,465.6 200.0,466.8 205.0,467.4 209.0,469.6 213.0,471.0 218.0,469.6 222.5,467.0 232.5,464.6 250.0,461.3 262.6,457.6 275.0,454.6 287.6,452.6 300.0,451.0 315.0,450.0 325.0,447.6 337.7,443.3 350.0,438.0 362.7,434.6 375.0,432.0 387.7,430.8 400.0,430.0 412.5,432.5 425.0,436.3 437.5,439.6 450.0,440.6 462.6,441.3 475.0,439.6 487.6,438.8 500.0,438.3 512.6,439.6 525.0,441.3 537.7,444.3 550.0,445.0 562.7,443.8 575.0,443.0 587.7,441.3 600.0,439.3 614.4,436.9 628.8,435.4 657.7,434.6 672.0,435.4 686.5,436.9 700.9,438.3 715.3,439.2 739.8,440.3" fill="none" stroke="#111" stroke-width="1.2" stroke-linejoin="round" />
<polyline points="73.3,435.8 85.0,437.6 105.0,441.3 125.0,445.8 150.0,452.0 175.0,457.6 200.0,460.7 212.5,462.0 225.0,464.4 232.5,464.6 240.0,463.5 250.0,462.6 262.6,461.3 275.0,459.6 287.6,457.6 300.0,456.3 312.6,455.0 325.0,453.3 337.7,450.8 350.0,447.6 362.7,444.3 375.0,441.3 387.7,438.8 400.0,436.9 412.5,436.3 425.0,436.3 437.5,437.6 450.0,438.3 462.6,439.3 475.0,439.3 487.6,438.8 500.0,438.3 512.6,438.8 525.0,439.6 537.7,441.3 550.0,442.6 562.7,443.0 575.0,443.0 587.7,442.0 600.0,440.8 614.4,439.2 628.8,437.5 657.7,436.3 672.0,436.3 686.5,436.9 700.9,437.8 715.3,438.3 739.8,438.9" fill="none" stroke="#10109c" stroke-width="1.3" stroke-linejoin="round" />
</g>
<text x="2.0" y="401.8" font-family="Liberation Serif" font-size="12" fill="#1414b4" text-anchor="start" font-weight="bold" font-style="normal" textLength="26.8" lengthAdjust="spacingAndGlyphs" >MACD</text>
<text x="74.6" y="401.6" font-family="Liberation Sans" font-size="12.4" fill="#111" text-anchor="start" font-weight="normal" font-style="normal" textLength="52.6" lengthAdjust="spacingAndGlyphs" >DIF=-21.60</text>
<text x="145.7" y="401.6" font-family="Liberation Sans" font-size="12.4" fill="#14149c" text-anchor="start" font-weight="normal" font-style="normal" textLength="57.0" lengthAdjust="spacingAndGlyphs" >DEA=-21.93</text>
<text x="217.0" y="401.6" font-family="Liberation Sans" font-size="12.4" fill="#c030c8" text-anchor="start" font-weight="normal" font-style="normal" textLength="57.3" lengthAdjust="spacingAndGlyphs" >MACD=0.66</text>
<text x="39.2 45.1 51.0 56.9 62.8" y="412.2" font-family="Liberation Sans" font-size="11" fill="#404040" text-anchor="middle" font-weight="normal">39.46</text>
<text x="45.1 51.0 56.9 62.8" y="427.0" font-family="Liberation Sans" font-size="11" fill="#404040" text-anchor="middle" font-weight="normal">7.12</text>
<text x="33.2 39.2 45.1 51.0 56.9 62.8" y="442.0" font-family="Liberation Sans" font-size="11" fill="#404040" text-anchor="middle" font-weight="normal">-25.23</text>
<text x="33.2 39.2 45.1 51.0 56.9 62.8" y="456.8" font-family="Liberation Sans" font-size="11" fill="#404040" text-anchor="middle" font-weight="normal">-57.57</text>
<path d="M714.6 12V469.5" stroke="#000" stroke-width="1.2" stroke-dasharray="3.3 2.95" fill="none"/>
<rect x="0" y="469" width="841.6" height="1.1" fill="#a0a0a0"/>
<rect x="0" y="470.1" width="841.2" height="17.8" fill="#f0f0f0"/>
<rect x="0" y="487.6" width="841.6" height="1.5" fill="#a0a0a0"/>
<rect x="0" y="469" width="0.9" height="19.6" fill="#787878"/>
<rect x="840.4" y="469" width="1.3" height="19.5" fill="#a8a8a8"/>
<rect x="0" y="491.8" width="843" height="1.2" fill="#c4c4c4"/>
<g><rect x="3.5" y="472.5" width="14.6" height="12" fill="#fff" stroke="#181828" stroke-width="1"/><rect x="4" y="473" width="13.6" height="2.4" fill="#2434c8"/><path d="M4 476.2H17.6M4 479H17.6M4 481.8H17.6" stroke="#181828" stroke-width="0.8" fill="none"/><path d="M7.4 476V484.4M10.8 476V484.4M14.2 476V484.4" stroke="#181828" stroke-width="0.8" fill="none"/></g>
<rect x="22.2" y="472.2" width="47.8" height="12.5" fill="#f80000"/>
<text x="22.8" y="483.2" font-family="'Liberation Serif','Noto Serif CJK SC',serif" font-size="11.8" fill="#ffff20" text-anchor="start" font-weight="bold" textLength="47.0" lengthAdjust="spacingAndGlyphs">上证指数</text>
<text x="76.0" y="482.8" font-family="Liberation Sans" font-size="11.4" fill="#2e8b3c" text-anchor="start" font-weight="normal" font-style="normal" textLength="57.8" lengthAdjust="spacingAndGlyphs" >2873.5901</text>
<path d="M139.2 474.6H149.8L144.5 482.4z" fill="#1f6e22"/>
<text x="152.0" y="482.8" font-family="Liberation Sans" font-size="11.4" fill="#2e8b3c" text-anchor="start" font-weight="normal" font-style="normal" textLength="42.0" lengthAdjust="spacingAndGlyphs" >-8.6399</text>
<text x="200.2" y="482.8" font-family="Liberation Sans" font-size="11.4" fill="#2e8b3c" text-anchor="start" font-weight="normal" font-style="normal" textLength="38.5" lengthAdjust="spacingAndGlyphs" >-0.30%</text>
<circle cx="240.1" cy="477.4" r="7.7" fill="#f01010"/>
<text x="240.2" y="481.6" font-family="'Liberation Serif','Noto Serif CJK SC',serif" font-size="10.6" fill="#ffe820" text-anchor="middle" font-weight="bold">深</text>
<text x="252.6" y="482.8" font-family="Liberation Sans" font-size="11.4" fill="#2e8b3c" text-anchor="start" font-weight="normal" font-style="normal" textLength="45.0" lengthAdjust="spacingAndGlyphs" >8158.49</text>
<path d="M302.4 474.6H313L307.7 482.4z" fill="#1f6e22"/>
<text x="314.4" y="482.8" font-family="Liberation Sans" font-size="11.4" fill="#2e8b3c" text-anchor="start" font-weight="normal" font-style="normal" textLength="43.3" lengthAdjust="spacingAndGlyphs" >-163.87</text>
<text x="363.2" y="482.8" font-family="Liberation Sans" font-size="11.4" fill="#2e8b3c" text-anchor="start" font-weight="normal" font-style="normal" textLength="40.0" lengthAdjust="spacingAndGlyphs" >-1.97%</text>
<text x="409.2" y="482.8" font-family="Liberation Sans" font-size="11.4" fill="#2e8b3c" text-anchor="start" font-weight="normal" font-style="normal" textLength="45.2" lengthAdjust="spacingAndGlyphs" >1449.74</text>
<text x="454.8" y="484.0" font-family="'Liberation Serif','Noto Serif CJK SC',serif" font-size="11.6" fill="#800000" text-anchor="start">亿</text>
<rect x="468.2" y="470" width="1.3" height="17.6" fill="#8a8a8a"/>
<defs><linearGradient id="sg" x1="0" y1="0" x2="0" y2="1"><stop offset="0" stop-color="#f8f8f8"/><stop offset="0.45" stop-color="#e8e8e8"/><stop offset="0.55" stop-color="#d8d8d8"/><stop offset="1" stop-color="#c8c8c8"/></linearGradient></defs>
<rect x="470" y="469.6" width="221.5" height="1.8" fill="#9c9c9c"/>
<rect x="470" y="471.4" width="221.5" height="15.6" fill="#eeeeee"/>
<path d="M477.8 475.4V481.8L474.4 478.6z" fill="#404040"/>
<path d="M665.4 475.2V482.2L669 478.7z" fill="#404040"/>
<rect x="491.5" y="473.4" width="58" height="11.2" rx="1.8" fill="url(#sg)" stroke="#9a9a9a" stroke-width="0.9"/>
<path d="M516.3 475.6V480.8M519.7 475.6V480.8M523.1 475.6V480.8" stroke="#505050" stroke-width="1.1"/>
<g><path d="M700.5 472L697 484H704z" fill="#fff" stroke="#2020b0" stroke-width="1.1" stroke-linejoin="round"/><path d="M695.4 485.2H705.8" stroke="#2020b0" stroke-width="1.4"/><path d="M698.6 478.6H702.4M697.8 481.4H703.2" stroke="#2020b0" stroke-width="0.9"/><circle cx="700.5" cy="472.4" r="1" fill="#2020b0"/></g>
<text x="711.4" y="483.6" font-family="'Liberation Sans','Noto Sans CJK SC',sans-serif" font-size="11.8" fill="#000" text-anchor="start">收</text>
<text x="723.2" y="483.6" font-family="Liberation Sans" font-size="12.4" fill="#000" text-anchor="start" font-weight="normal" font-style="normal" textLength="47.2" lengthAdjust="spacingAndGlyphs" >1A0001</text>
<text x="771.6" y="483.6" font-family="'Liberation Sans','Noto Sans CJK SC',sans-serif" font-size="11.8" fill="#000" text-anchor="start" textLength="23.6" lengthAdjust="spacingAndGlyphs">日线</text>
<rect x="740" y="391" width="103" height="77.5" fill="#fff"/>
<defs><radialGradient id="lg" cx="0.8" cy="0.66" r="0.6"><stop offset="0" stop-color="#f0ffa0"/><stop offset="0.4" stop-color="#70e490"/><stop offset="1" stop-color="#1cd48c"/></radialGradient><filter id="glow" x="-20%" y="-20%" width="140%" height="140%"><feMorphology in="SourceAlpha" operator="dilate" radius="1.1" result="d"/><feGaussianBlur in="d" stdDeviation="0.7" result="b"/><feFlood flood-color="#fff"/><feComposite in2="b" operator="in" result="w"/><feMerge><feMergeNode in="w"/><feMergeNode in="SourceGraphic"/></feMerge></filter></defs>
<g transform="translate(738 394) scale(0.14198)"><circle cx="236" cy="245" r="203" fill="url(#lg)" stroke="#1e60e6" stroke-width="15"/><path d="M236 45L432 245L236 245z" fill="#ffc414"/><path d="M236 245L432 245L236 445z" fill="#ffc818"/><path d="M236 52L162 116L236 152z" fill="#ffd228"/><path d="M46 245L112 188L112 302z" fill="#ffe24a"/><path d="M236 440L172 372L236 335z" fill="#ffd228"/><path d="M118 150L165 114L236 150L352 190L236 222L92 252z" fill="#f89494"/><path d="M148 372L236 330L348 320L236 352L182 376z" fill="#f89494"/><path d="M114 94L162 120L120 152z" fill="#e81414"/><path d="M118 366L162 372L124 394z" fill="#e81414"/><path d="M236 45L432 245L236 445L42 245z" fill="none" stroke="#1c5a24" stroke-width="5.5"/><path d="M236 45V445" stroke="#1c5a24" stroke-width="5.5"/><path d="M250 62L352 188M352 312L250 430M42 245L236 150M42 245L236 340" stroke="#1c5a24" stroke-width="4" fill="none"/></g>
<g filter="url(#glow)"><text x="750.4" y="437.2" font-family="Liberation Serif" font-size="32" fill="#0a0ae0" text-anchor="start" font-weight="normal" font-style="italic" textLength="52.0" lengthAdjust="spacingAndGlyphs" stroke="#0a0ae0" stroke-width="0.75">gann</text></g>
<text x="803.0" y="436.0" font-family="Liberation Sans" font-size="18" fill="#e00808" text-anchor="start" font-weight="bold" font-style="normal" textLength="28.0" lengthAdjust="spacingAndGlyphs" >360</text>
<g font-family="Liberation Sans" font-size="8.4" fill="#303030" text-anchor="middle"><text transform="translate(793.72 448.70) rotate(47.0) scale(0.68 1)">1</text><text transform="translate(796.49 451.29) rotate(39.2) scale(0.68 1)">2</text><text transform="translate(799.58 453.48) rotate(31.5) scale(0.68 1)">3</text><text transform="translate(802.93 455.23) rotate(23.7) scale(0.68 1)">4</text><text transform="translate(806.49 456.52) rotate(16.0) scale(0.68 1)">5</text><text transform="translate(810.20 457.31) rotate(8.2) scale(0.68 1)">6</text><text transform="translate(813.98 457.60) rotate(0.5) scale(0.68 1)">7</text><text transform="translate(817.76 457.37) rotate(-7.3) scale(0.68 1)">8</text><text transform="translate(821.47 456.64) rotate(-15.1) scale(0.68 1)">9</text><text transform="translate(825.06 455.41) rotate(-22.8) scale(0.68 1)">0</text><text transform="translate(828.44 453.71) rotate(-30.6) scale(0.68 1)">1</text><text transform="translate(831.56 451.57) rotate(-38.3) scale(0.68 1)">2</text><text transform="translate(834.37 449.02) rotate(-46.1) scale(0.68 1)">3</text><text transform="translate(836.81 446.12) rotate(-53.8) scale(0.68 1)">4</text><text transform="translate(838.83 442.92) rotate(-61.6) scale(0.68 1)">5</text><text transform="translate(840.40 439.47) rotate(-69.4) scale(0.68 1)">6</text><text transform="translate(841.49 435.85) rotate(-77.1) scale(0.68 1)">7</text><text transform="translate(842.09 432.11) rotate(-84.9) scale(0.68 1)">8</text><text transform="translate(842.17 428.32) rotate(-92.6) scale(0.68 1)">9</text><text transform="translate(841.74 424.56) rotate(-100.4) scale(0.68 1)">0</text><text transform="translate(840.81 420.88) rotate(-108.1) scale(0.68 1)">1</text><text transform="translate(839.39 417.37) rotate(-115.9) scale(0.68 1)">2</text><text transform="translate(837.51 414.09) rotate(-123.6) scale(0.68 1)">3</text><text transform="translate(835.20 411.08) rotate(-131.4) scale(0.68 1)">4</text><text transform="translate(832.51 408.42) rotate(-139.2) scale(0.68 1)">5</text><text transform="translate(829.48 406.14) rotate(-146.9) scale(0.68 1)">6</text><text transform="translate(826.18 404.29) rotate(-154.7) scale(0.68 1)">7</text><text transform="translate(822.65 402.91) rotate(-162.4) scale(0.68 1)">8</text><text transform="translate(818.97 402.01) rotate(-170.2) scale(0.68 1)">9</text><text transform="translate(815.20 401.62) rotate(-177.9) scale(0.68 1)">0</text><text transform="translate(811.42 401.74) rotate(-185.7) scale(0.68 1)">1</text><text transform="translate(807.68 402.37) rotate(-193.5) scale(0.68 1)">2</text><text transform="translate(804.07 403.50) rotate(-201.2) scale(0.68 1)">3</text><text transform="translate(800.64 405.10) rotate(-209.0) scale(0.68 1)">4</text><text transform="translate(797.45 407.16) rotate(-216.7) scale(0.68 1)">5</text><text transform="translate(794.58 409.62) rotate(-224.5) scale(0.68 1)">6</text><text transform="translate(792.06 412.46) rotate(-232.2) scale(0.68 1)">7</text><text transform="translate(789.95 415.60) rotate(-240.0) scale(0.68 1)">8</text></g>
</svg>
</body></html>
